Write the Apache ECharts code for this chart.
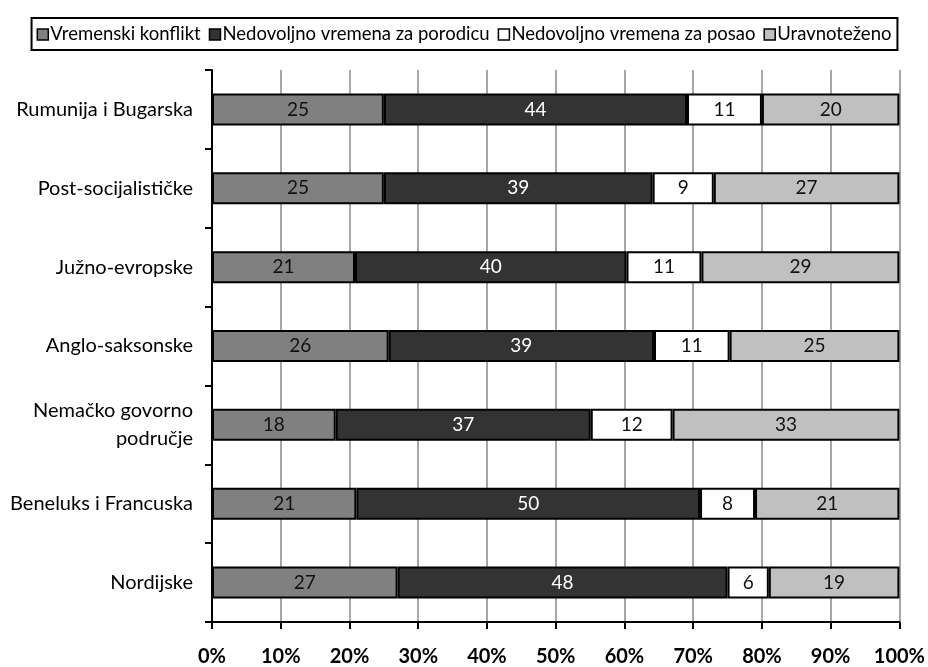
<!DOCTYPE html>
<html>
<head>
<meta charset="utf-8">
<script src="https://cdn.jsdelivr.net/npm/echarts@6/dist/echarts.min.js"></script>
<style>html,body{margin:0;padding:0;background:#fff}#c{width:928px;height:667px}</style>
</head>
<body>
<div id="c"></div>
<script>
const categories = ['Rumunija i Bugarska','Post-socijalističke','Južno-evropske','Anglo-saksonske','Nemačko govorno\npodručje','Beneluks i Francuska','Nordijske'];
const seriesNames = ['Vremenski konflikt','Nedovoljno vremena za porodicu','Nedovoljno vremena za posao','Uravnoteženo'];
const vremenskiKonflikt = [25, 25, 20.8, 25.7, 18, 21, 27];
const nedovoljnoPorodica = [44.1, 39.1, 39.5, 38.6, 37.1, 50, 48];
const nedovoljnoPosao = [10.9, 8.9, 10.9, 11.0, 11.9, 8, 6];
const uravnotezeno = [20, 27, 28.8, 24.7, 33, 21, 19];
const xTicks = [0,10,20,30,40,50,60,70,80,90,100];

const FONT = 'Lato';
const colors = ['#808080','#333333','#ffffff','#c0c0c0'];
const labelColors = ['#111','#fff','#111','#111'];
const dataSets = [vremenskiKonflikt, nedovoljnoPorodica, nedovoljnoPosao, uravnotezeno];

const chart = echarts.init(document.getElementById('c'), null, {renderer:'canvas'});
chart.setOption({
  animation:false,
  backgroundColor:'#fff',
  textStyle:{fontFamily:FONT},
  legend:{
    top:18, left:'center',
    data:seriesNames,
    borderColor:'#000', borderWidth:2, padding:[7,6,6,5],
    itemGap:8, itemWidth:11, itemHeight:11,
    icon:'rect',
    itemStyle:{borderColor:'#000',borderWidth:1.5},
    textStyle:{fontFamily:FONT,fontSize:18.5,color:'#000',padding:[0,0,0,-3]}
  },
  grid:{left:212,right:28,top:70,bottom:44,containLabel:false},
  xAxis:{
    type:'value', min:0, max:100, interval:10,
    axisLine:{show:true,lineStyle:{color:'#000',width:2}},
    axisTick:{show:true,length:7,lineStyle:{color:'#000',width:2}},
    axisLabel:{formatter:v=>v+'%',fontFamily:FONT,fontSize:20,fontWeight:'bold',color:'#000',margin:25},
    splitLine:{show:true,lineStyle:{color:'#a6a6a6',width:2}}
  },
  yAxis:{
    type:'category', data:categories, inverse:true,
    axisLine:{show:true,lineStyle:{color:'#000',width:2}},
    axisTick:{show:true,length:7,lineStyle:{color:'#000',width:2}},
    axisLabel:{fontFamily:FONT,fontSize:20,color:'#000',margin:19,align:'right',lineHeight:28}
  },
  series: seriesNames.map((n,i)=>({
    name:n, type:'bar', stack:'total', barWidth:32,
    data:dataSets[i],
    itemStyle:{color:colors[i],borderColor:'#000',borderWidth:2},
    label:{show:true,position:'inside',formatter:p=>Math.round(p.value),color:labelColors[i],fontFamily:FONT,fontSize:19}
  }))
});
</script>
</body>
</html>
